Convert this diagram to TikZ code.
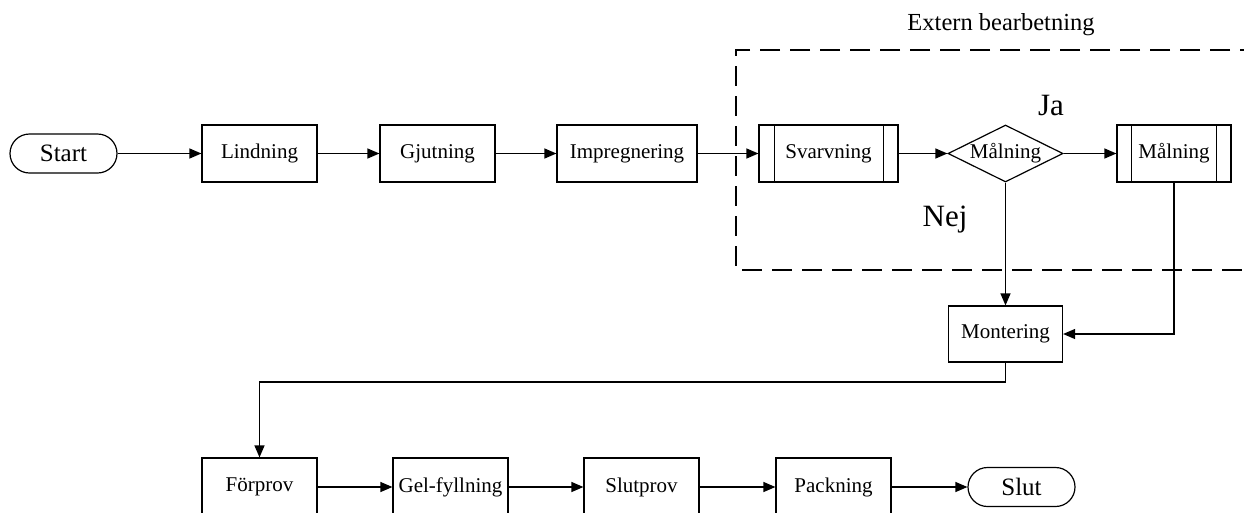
\documentclass[tikz,border=0pt]{standalone}
\usepackage{fontspec}
\setmainfont{Liberation Serif}
\usetikzlibrary{arrows.meta,shapes.geometric}

\begin{document}
\begin{tikzpicture}[x=1pt,y=-1pt,
  line width=1.2pt,
  flow/.style={-{Triangle[length=12pt,width=10pt]}},
  box/.style={draw, rectangle, minimum width=115pt, minimum height=57pt,
    inner sep=0pt, font=\fontsize{21}{25}\selectfont},
  term/.style={draw, rectangle, rounded corners=19.5pt, minimum width=107pt,
    minimum height=39pt, inner sep=0pt, font=\fontsize{25}{30}\selectfont},
  decision/.style={draw, diamond, aspect=2, minimum width=115pt,
    minimum height=57pt, inner sep=0pt, font=\fontsize{21}{25}\selectfont},
  answer/.style={font=\fontsize{31}{36}\selectfont, inner sep=0pt},
  region/.style={dash pattern=on 20pt off 10pt}]

\useasboundingbox (0,0) rectangle (1244,512);

% external processing region (open to the right)
\draw[region] (1260,50) -- (736,50) -- (736,270) -- (1260,270);
\node[font=\fontsize{24.5}{29}\selectfont, inner sep=0pt] (extern) at (1001,25) {Extern bearbetning};

% top row
\node[term] (start) at (63.5,153.5) {Start};
\node[box] (lind) at (259.5,153.5) {Lindning};
\node[box] (gjut) at (437.5,153.5) {Gjutning};
\node[box, minimum width=140pt] (impr) at (627,153.5) {Impregnering};
\node[box, minimum width=139pt] (svarv) at (828.5,153.5) {Svarvning};
\node[decision] (dia) at (1005.5,153.5) {Målning};
\node[box, minimum width=114pt] (malbox) at (1174,153.5) {Målning};

% side bars of the predefined processes
\draw ([xshift=16pt]svarv.north west) -- ([xshift=16pt]svarv.south west);
\draw ([xshift=-15pt]svarv.north east) -- ([xshift=-15pt]svarv.south east);
\draw ([xshift=15pt]malbox.north west) -- ([xshift=15pt]malbox.south west);
\draw ([xshift=-15pt]malbox.north east) -- ([xshift=-15pt]malbox.south east);

\node[answer] (ja) at (1051,105) {Ja};
\node[answer] (nej) at (945,220) {Nej};

% assembly
\node[box, minimum width=114pt, minimum height=56pt] (mont) at (1005.5,334) {Montering};

% bottom row
\node[box, minimum height=58pt] (forp) at (259.5,487) {Förprov};
\node[box, minimum height=58pt] (gel) at (450.5,487) {Gel-fyllning};
\node[box, minimum height=58pt] (slutp) at (641.5,487) {Slutprov};
\node[box, minimum height=58pt] (pack) at (833.5,487) {Packning};
\node[term] (slut) at (1021.5,487) {Slut};

\coordinate (bend) at (600,382);

% connectors
\draw[flow] (start) -- (lind);
\draw[flow] (lind) -- (gjut);
\draw[flow] (gjut) -- (impr);
\draw[flow] (impr) -- (svarv);
\draw[flow] (svarv) -- (dia);
\draw[flow] (dia) -- (malbox);
\draw[flow] (dia.south) -- (mont.north);
\draw[flow] (malbox.south) |- (mont.east);
\draw[flow] (mont.south) |- (bend) -| (forp.north);
\draw[flow] (forp) -- (gel);
\draw[flow] (gel) -- (slutp);
\draw[flow] (slutp) -- (pack);
\draw[flow] (pack) -- (slut);
\end{tikzpicture}
\end{document}
